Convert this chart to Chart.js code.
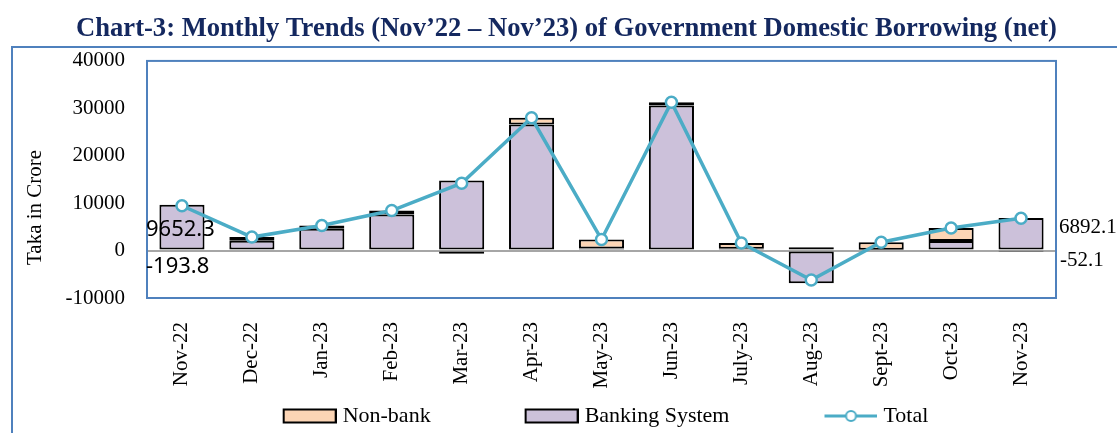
<!DOCTYPE html>
<html>
<head>
<meta charset="utf-8">
<title>Chart-3: Government Domestic Borrowing</title>
<script src="https://cdn.jsdelivr.net/npm/chart.js@4.4.1/dist/chart.umd.min.js"></script>
<style>
  html, body { margin: 0; padding: 0; background: #fff; overflow: hidden; }
  #frame { position: absolute; left: 11px; top: 46px; width: 1400px; height: 700px; border: 2px solid #4f81bd; }
  #wrap { position: absolute; left: 0; top: 0; width: 1117px; height: 433px; }
</style>
</head>
<body>
<div id="frame"></div>
<div id="wrap"><canvas id="borrowChart"></canvas></div>
<script>
// values (Taka in crore)
const months = ["Nov-22", "Dec-22", "Jan-23", "Feb-23", "Mar-23", "Apr-23", "May-23",
                "Jun-23", "July-23", "Aug-23", "Sept-23", "Oct-23", "Nov-23"];
const bankingSystem = [9652.3, 2100, 4600, 7600, 14800, 26600, 450, 30600, 400, -6900, 200, 2000, 6892.1];
const nonBank = [-193.8, 750, 700, 850, -650, 1400, 1900, 700, 1200, 700, 1550, 2750, -52.1];
const totalNet = [9458.5, 2850, 5300, 8450, 14200, 28000, 2350, 31300, 1600, -6200, 1750, 4750, 6840.0];
const yTicks = [-10000, 0, 10000, 20000, 30000, 40000];

const LINE_BLUE = "#4bacc6";
const LAVENDER = "#ccc1da";
const PEACH = "#fcd5b5";
const FRAME_BLUE = "#4f81bd";
const SERIF = "'Liberation Serif', 'Times New Roman', serif";

// legend swatches: transparent lead-in keeps the Excel spacing between items
function legendSwatch(kind, colour) {
  const c = document.createElement("canvas");
  c.width = 137;
  c.height = 16;
  const g = c.getContext("2d");
  if (kind === "box") {
    g.fillStyle = colour;
    g.strokeStyle = "#000";
    g.lineWidth = 2;
    g.fillRect(84, 1.5, 52, 13);
    g.strokeRect(84, 1.5, 52, 13);
  } else {
    g.strokeStyle = colour;
    g.lineWidth = 3;
    g.beginPath();
    g.moveTo(84, 8);
    g.lineTo(137, 8);
    g.stroke();
    g.beginPath();
    g.arc(110.5, 8, 5, 0, Math.PI * 2);
    g.fillStyle = "#fff";
    g.fill();
    g.lineWidth = 2;
    g.stroke();
  }
  return c;
}

const plotFrame = {
  id: "plotFrame",
  afterDraw(chart) {
    const { ctx, chartArea: a } = chart;
    ctx.save();
    ctx.strokeStyle = FRAME_BLUE;
    ctx.lineWidth = 2;
    ctx.strokeRect(a.left, a.top, a.right - a.left, a.bottom - a.top);
    ctx.restore();
  }
};

const sideLabels = {
  id: "sideLabels",
  afterDraw(chart) {
    const { ctx, chartArea: a, scales: { y } } = chart;
    const last = months.length - 1;
    ctx.save();
    ctx.fillStyle = "#000";
    ctx.textBaseline = "middle";
    ctx.textAlign = "left";

    ctx.font = "22px 'Noto Sans', sans-serif";
    ctx.fillText(bankingSystem[0].toFixed(1), a.left - 1, y.getPixelForValue(bankingSystem[0]) + 25);
    ctx.fillText(nonBank[0].toFixed(1), a.left - 1, y.getPixelForValue(nonBank[0]) + 15);

    ctx.font = "21px " + SERIF;
    ctx.fillText(bankingSystem[last].toFixed(1), a.right + 3, y.getPixelForValue(bankingSystem[last]) + 10);
    ctx.fillText(nonBank[last].toFixed(1), a.right + 4, y.getPixelForValue(nonBank[last]) + 10);

    // axis title sits lower than the plot centre in the original
    ctx.translate(35, (a.top + a.bottom) / 2 + 28);
    ctx.rotate(-Math.PI / 2);
    ctx.textAlign = "center";
    ctx.fillText("Taka in Crore", 0, 0);
    ctx.restore();
  }
};

const ctx = document.getElementById("borrowChart").getContext("2d");

new Chart(ctx, {
  type: "bar",
  data: {
    labels: months,
    datasets: [
      {
        type: "line",
        label: "Total",
        data: totalNet,
        borderColor: LINE_BLUE,
        borderWidth: 3.5,
        pointRadius: 5.5,
        pointBackgroundColor: "#fff",
        pointBorderColor: LINE_BLUE,
        pointBorderWidth: 2.5,
        tension: 0,
        stack: "total",
        order: 0
      },
      {
        label: "Banking System",
        data: bankingSystem,
        backgroundColor: LAVENDER,
        borderColor: "#000",
        borderWidth: 2,
        borderSkipped: false,
        stack: "net",
        order: 1
      },
      {
        label: "Non-bank",
        data: nonBank,
        backgroundColor: PEACH,
        borderColor: "#000",
        borderWidth: 2,
        borderSkipped: false,
        stack: "net",
        order: 2
      }
    ]
  },
  options: {
    responsive: true,
    maintainAspectRatio: false,
    animation: false,
    layout: { padding: { left: 16 } },
    datasets: {
      bar: { categoryPercentage: 1, barPercentage: 0.645 }
    },
    plugins: {
      title: {
        display: true,
        text: "Chart-3: Monthly Trends (Nov’22 – Nov’23) of Government Domestic Borrowing (net)",
        color: "#14285f",
        font: { family: SERIF, size: 26.6, weight: "bold" },
        padding: { top: 13, bottom: 16 }
      },
      legend: {
        position: "bottom",
        maxHeight: 44,
        labels: {
          usePointStyle: true,
          pointStyleWidth: 127,
          padding: 16,
          color: "#000",
          font: { family: SERIF, size: 22 },
          generateLabels: () => [
            { text: "Non-bank", pointStyle: legendSwatch("box", PEACH), datasetIndex: 2, lineWidth: 0, fontColor: "#000" },
            { text: "Banking System", pointStyle: legendSwatch("box", LAVENDER), datasetIndex: 1, lineWidth: 0, fontColor: "#000" },
            { text: "Total", pointStyle: legendSwatch("line", LINE_BLUE), datasetIndex: 0, lineWidth: 0, fontColor: "#000" }
          ]
        }
      },
      tooltip: { enabled: false }
    },
    scales: {
      x: {
        stacked: true,
        grid: { display: false },
        border: { display: false },
        ticks: {
          minRotation: 90,
          maxRotation: 90,
          padding: 16,
          color: "#000",
          font: { family: SERIF, size: 21 }
        },
        afterFit: (axis) => { axis.height = 91; }
      },
      y: {
        stacked: true,
        min: -10000,
        max: 40000,
        border: { display: false },
        grid: {
          drawTicks: false,
          lineWidth: 2,
          color: (c) => (c.tick && c.tick.value === 0 ? "#a6a6a6" : "rgba(0,0,0,0)")
        },
        ticks: {
          padding: 22,
          color: "#000",
          font: { family: SERIF, size: 21 },
          callback: (v) => String(v)
        },
        afterBuildTicks: (axis) => { axis.ticks = yTicks.map(v => ({ value: v })); },
        afterFit: (axis) => { axis.width = 131; }
      },
      yRight: {
        position: "right",
        grid: { display: false },
        border: { display: false },
        ticks: { display: false },
        afterFit: (axis) => { axis.width = 61; }
      }
    }
  },
  plugins: [plotFrame, sideLabels]
});
</script>
</body>
</html>
